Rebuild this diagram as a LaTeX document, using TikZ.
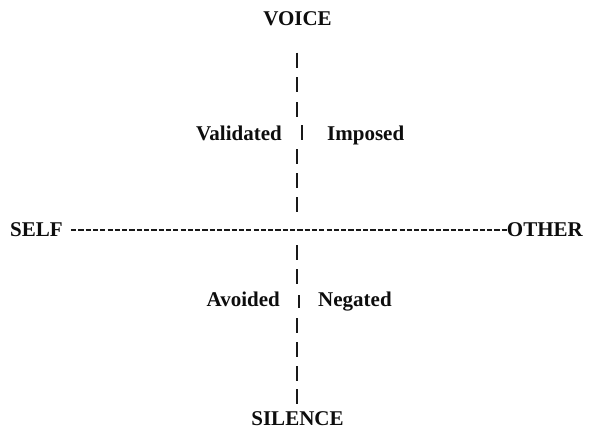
\documentclass[tikz,border=0pt]{standalone}
\usepackage{fontspec}
\setmainfont{Liberation Serif}
\begin{document}
\begin{tikzpicture}[x=1pt,y=-1pt,
  lbl/.style={font=\bfseries\fontsize{21}{24}\selectfont, inner sep=0pt, anchor=base, text=black!95},
  bar/.style={line width=2.1pt, draw=black!90},
  hline/.style={line width=2.6pt, draw=black!90, dash pattern=on 5.2pt off 2.1pt}]
\useasboundingbox (0,0) rectangle (589,429);
\node[lbl] (voice) at (297.5,25.6) {VOICE};
\node[lbl] (silence) at (297.5,425.6) {SILENCE};
\node[lbl, anchor=base west] (self) at (10,236) {SELF};
\node[lbl, anchor=base east] (other) at (583,236) {OTHER};
\node[lbl, anchor=base east] (val) at (282,140.6) {Validated};
\node[lbl, anchor=base west] (imp) at (327,140.6) {Imposed};
\node[lbl, anchor=base east] (avo) at (280,306.6) {Avoided};
\node[lbl, anchor=base west] (neg) at (318,306.6) {Negated};
\coordinate (hl) at (71,230);
\coordinate (hr) at (508,230);
\draw[hline] (hl) -- (hr);
\foreach \y in {52.7,77,102,149,173,197,245,269,318,342,366,389}
  \draw[bar] (296.7,\y) -- ++(0,15);
\draw[bar] (302,125) -- ++(0,15);
\draw[bar] (299,295) -- ++(0,13);
\end{tikzpicture}
\end{document}
